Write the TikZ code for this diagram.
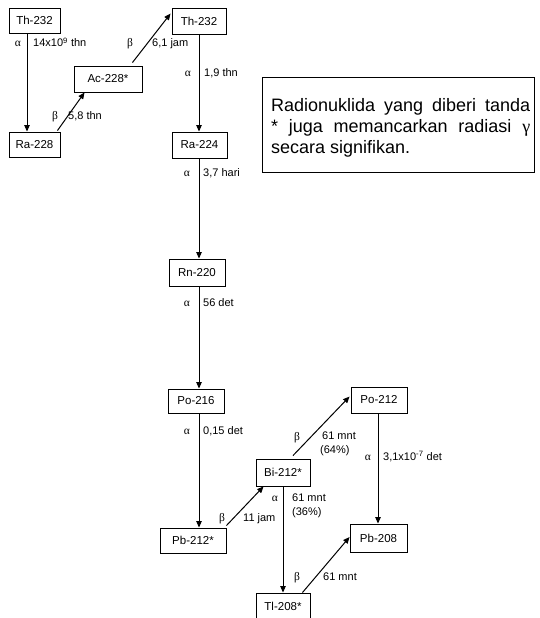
\documentclass[tikz,border=0pt]{standalone}
\usepackage{fontspec}
\setmainfont{Liberation Sans}
\newfontfamily\grk{Liberation Serif}
\usetikzlibrary{arrows.meta,calc}
\begin{document}
\begin{tikzpicture}[x=1pt,y=-1pt,
  box/.style={draw,line width=0.9pt,minimum height=26pt,inner sep=0pt,font=\fontsize{11.5}{13}\selectfont},
  arr/.style={line width=1pt,-{Triangle[length=6.5pt,width=5.5pt]}},
  lbl/.style={font=\fontsize{11}{13}\selectfont,anchor=west,inner sep=0pt,text height=8pt,text depth=0pt},
  sym/.style={font=\fontsize{11.5}{13}\selectfont\grk,inner sep=0pt,text height=8pt,text depth=0pt}]
\useasboundingbox (0,0) rectangle (539,618);

% columns
\coordinate (cA) at (27,0);
\coordinate (cB) at (199,0);
\coordinate (cC) at (283,0);
\coordinate (cD) at (378,0);

% nuclide boxes
\node[box,minimum width=51pt,minimum height=25pt] (th1) at (34.5,20.5) {Th-232};
\node[box,minimum width=51pt,minimum height=25pt] (ra228) at (34.5,144.5) {Ra-228};
\node[box,minimum width=68pt] (ac228) at (108,79) {Ac-228*};
\node[box,minimum width=54pt] (th2) at (199,21) {Th-232};
\node[box,minimum width=55pt] (ra224) at (199.5,145) {Ra-224};
\node[box,minimum width=56pt,minimum height=27pt] (rn220) at (197,272.5) {Rn-220};
\node[box,minimum width=56pt,minimum height=24pt] (po216) at (196,401) {Po-216};
\node[box,minimum width=66pt,minimum height=25pt] (pb212) at (193,540.5) {Pb-212*};
\node[box,minimum width=54pt,minimum height=27pt] (bi212) at (283,472.5) {Bi-212*};
\node[box,minimum width=56pt] (po212) at (379,400) {Po-212};
\node[box,minimum width=57pt,minimum height=28pt] (pb208) at (378.5,538) {Pb-208};
\node[box,minimum width=54pt] (tl208) at (283,606) {Tl-208*};

% note
\node[draw,line width=1pt,minimum width=272pt,minimum height=95pt,inner sep=0pt] (note) at (398,124.5) {};
\node[anchor=north west,inner sep=0pt,text width=259pt,align=justify,
      font=\fontsize{18}{21}\selectfont] (notetext) at (271,98)
  {Radionuklida yang diberi tanda\linebreak * juga memancarkan radiasi {\grk γ}\linebreak secara signifikan.};

% vertical decays
\draw[arr] (th1.south -| cA) -- (ra228.north -| cA);
\draw[arr] (th2.south -| cB) -- (ra224.north -| cB);
\draw[arr] (ra224.south -| cB) -- (rn220.north -| cB);
\draw[arr] (rn220.south -| cB) -- (po216.north -| cB);
\draw[arr] (po216.south -| cB) -- (pb212.north -| cB);
\draw[arr] (bi212.south -| cC) -- (tl208.north -| cC);
\draw[arr] (po212.south -| cD) -- (pb208.north -| cD);

% diagonal decays
\draw[arr] ([shift={(-3,-1)}]ra228.north east) -- ([shift={(11,0)}]ac228.south west);
\draw[arr] ([shift={(-10,-3)}]ac228.north east) -- ([shift={(-1,6)}]th2.north west);
\draw[arr] ([shift={(0,-2)}]pb212.north east) -- ([shift={(8,0)}]bi212.south west);
\draw[arr] ([shift={(10,-3)}]bi212.north) -- ([shift={(-1,10)}]po212.north west);
\draw[arr] ([shift={(-8,0)}]tl208.north east) -- ([shift={(0,-1)}]pb208.west);

% labels
\node[sym] (s1) at (18,43) {α};
\node[lbl] (t1) at (33,43) {14x10\textsuperscript{9} thn};
\node[sym] (s2) at (55,115) {β};
\node[lbl] (t2) at (68,115) {5,8 thn};
\node[sym] (s3) at (130,43) {β};
\node[lbl] (t3) at (152,43) {6,1 jam};
\node[sym] (s4) at (188,73) {α};
\node[lbl] (t4) at (204,73) {1,9 thn};
\node[sym] (s5) at (187,172) {α};
\node[lbl] (t5) at (203,172) {3,7 hari};
\node[sym] (s6) at (187,302) {α};
\node[lbl] (t6) at (203,302) {56 det};
\node[sym] (s7) at (187,430) {α};
\node[lbl] (t7) at (203,430) {0,15 det};
\node[sym] (s8) at (222,517) {β};
\node[lbl] (t8) at (243,517) {11 jam};
\node[sym] (s9) at (297,436) {β};
\node[lbl] (t9) at (322,435) {61 mnt};
\node[lbl] (t9b) at (320,449) {(64\%)};
\node[sym] (s10) at (275,497) {α};
\node[lbl] (t10) at (292,497) {61 mnt};
\node[lbl] (t10b) at (292,511) {(36\%)};
\node[sym] (s11) at (368,456) {α};
\node[lbl] (t11) at (383,456) {3,1x10\textsuperscript{-7} det};
\node[sym] (s12) at (297,576) {β};
\node[lbl] (t12) at (323,576) {61 mnt};
\end{tikzpicture}
\end{document}
